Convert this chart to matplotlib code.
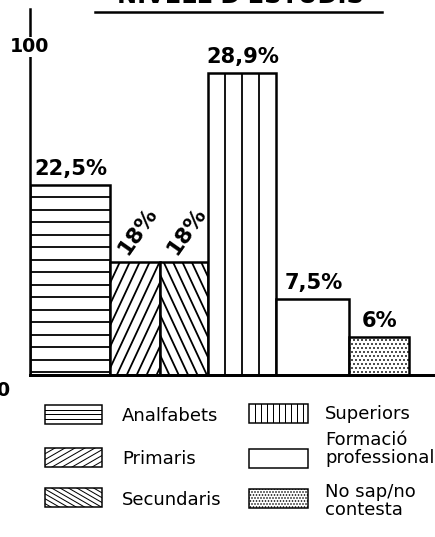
import matplotlib.pyplot as plt
from matplotlib.patches import Rectangle
import numpy as np

# data
categories = ['Analfabets', 'Primaris', 'Secundaris', 'Superiors',
              'Formació\nprofessional', 'No sap/no\ncontesta']
percents = [22.5, 18, 18, 28.9, 7.5, 6]
# bar heights as drawn against the 0-100 axis (the original is not to scale)
drawn = [58, 34.5, 34.5, 92, 23.2, 11.6]
title = "NIVELL D'ESTUDIS"

# layout / style
widths = [80, 50, 48, 68, 73, 60]
bar_hatch = [(0, 12.5), (65, 9), (115, 8.5), (90, 17), None, 'dots']
leg_hatch = [(0, 4.6), (30, 5), (-30, 4.2), (90, 6), None, 'dots']
px_y = 3.28  # pixels per percent unit on the main axis

plt.rcParams['hatch.linewidth'] = 1.0


def stripe(ax, patch, sx, sy, ang, gap, lw):
    # draw parallel lines clipped to a rectangle, in pixel-like space
    x0, y0 = patch.get_xy()
    w, h = patch.get_width(), patch.get_height()
    X = np.array([x0, x0 + w]) * sx
    Y = np.array([y0, y0 + h]) * sy
    corners = np.array([[X[0], Y[0]], [X[1], Y[0]], [X[0], Y[1]], [X[1], Y[1]]])
    t = np.radians(ang)
    d = np.array([np.cos(t), np.sin(t)])
    n = np.array([-np.sin(t), np.cos(t)])
    proj = corners @ n
    c = corners.mean(axis=0)
    L = np.hypot(X[1] - X[0], Y[1] - Y[0])
    for s in np.arange(proj.max() - gap, proj.min() + 1, -gap):
        p = c + (s - c @ n) * n
        a, b = p - L * d, p + L * d
        ln, = ax.plot([a[0] / sx, b[0] / sx], [a[1] / sy, b[1] / sy],
                      color='black', lw=lw, zorder=2.5, solid_capstyle='butt')
        ln.set_clip_path(patch)


fig = plt.figure(figsize=(435 / 72, 537 / 72), dpi=72)
ax = fig.add_axes([30 / 435, (537 - 375) / 537, 405 / 435, 366 / 537])

lefts = np.concatenate([[0], np.cumsum(widths)[:-1]])
bars = ax.bar(lefts, drawn, width=widths, align='edge', facecolor='white',
              edgecolor='black', linewidth=2.5, zorder=2)

for i, b in enumerate(bars):
    hs = bar_hatch[i]
    if hs == 'dots':
        b.set_hatch('...')
    elif hs is not None:
        stripe(ax, b, 1, px_y, hs[0], hs[1], 1.8)

    lab = f'{percents[i]:g}'.replace('.', ',') + '%'
    cx = lefts[i] + widths[i] / 2
    if widths[i] < 55:
        ax.annotate(lab, (cx, drawn[i]), xytext=(3, 31), textcoords='offset points',
                    rotation=55, rotation_mode='anchor', ha='center', va='center',
                    fontsize=22, fontweight='bold')
    else:
        ax.annotate(lab, (cx, drawn[i]), xytext=(1, 6), textcoords='offset points',
                    ha='center', va='bottom', fontsize=21, fontweight='bold')

ax.set_xlim(0, 405)
ax.set_ylim(0, 366 / px_y)
for s in ['top', 'right']:
    ax.spines[s].set_visible(False)
ax.spines['left'].set_linewidth(2.5)
ax.spines['bottom'].set_linewidth(3)
ax.set_xticks([])
ax.set_yticks([])
ax.patch.set_visible(False)
ax.text(0, 100, '100', ha='center', va='center', fontsize=19, fontweight='bold',
        zorder=5, bbox=dict(facecolor='white', edgecolor='none', pad=1))

# overlay in pixel coordinates for title, legend, zero label
ov = fig.add_axes([0, 0, 1, 1])
ov.set_xlim(0, 435)
ov.set_ylim(537, 0)
ov.axis('off')
ov.patch.set_visible(False)

ov.text(240, 3, title, ha='center', va='baseline', fontsize=24, fontweight='bold')
ov.plot([95, 382], [12, 12], color='black', lw=2.5)
ov.text(3, 390, '0', ha='center', va='center', fontsize=19, fontweight='bold')

leg_x = [45, 45, 45, 249, 249, 249]
leg_y = [405, 448, 488, 404, 449, 489]
leg_w = [57, 57, 57, 59, 59, 59]
txt_x = [122, 122, 122, 325, 325, 325]
txt_y = [416, 459, 500, 414, 449, 501]
for i, cat in enumerate(categories):
    r = Rectangle((leg_x[i], leg_y[i]), leg_w[i], 19, facecolor='white',
                  edgecolor='black', lw=1.5, zorder=2)
    ov.add_patch(r)
    hs = leg_hatch[i]
    if hs == 'dots':
        r.set_hatch('....')
    elif hs is not None:
        stripe(ov, r, 1, -1, hs[0], hs[1], 1.0)
    ov.text(txt_x[i], txt_y[i], cat, ha='left', va='center', fontsize=18,
            linespacing=1.05)

fig.savefig('out.png', dpi=72)
